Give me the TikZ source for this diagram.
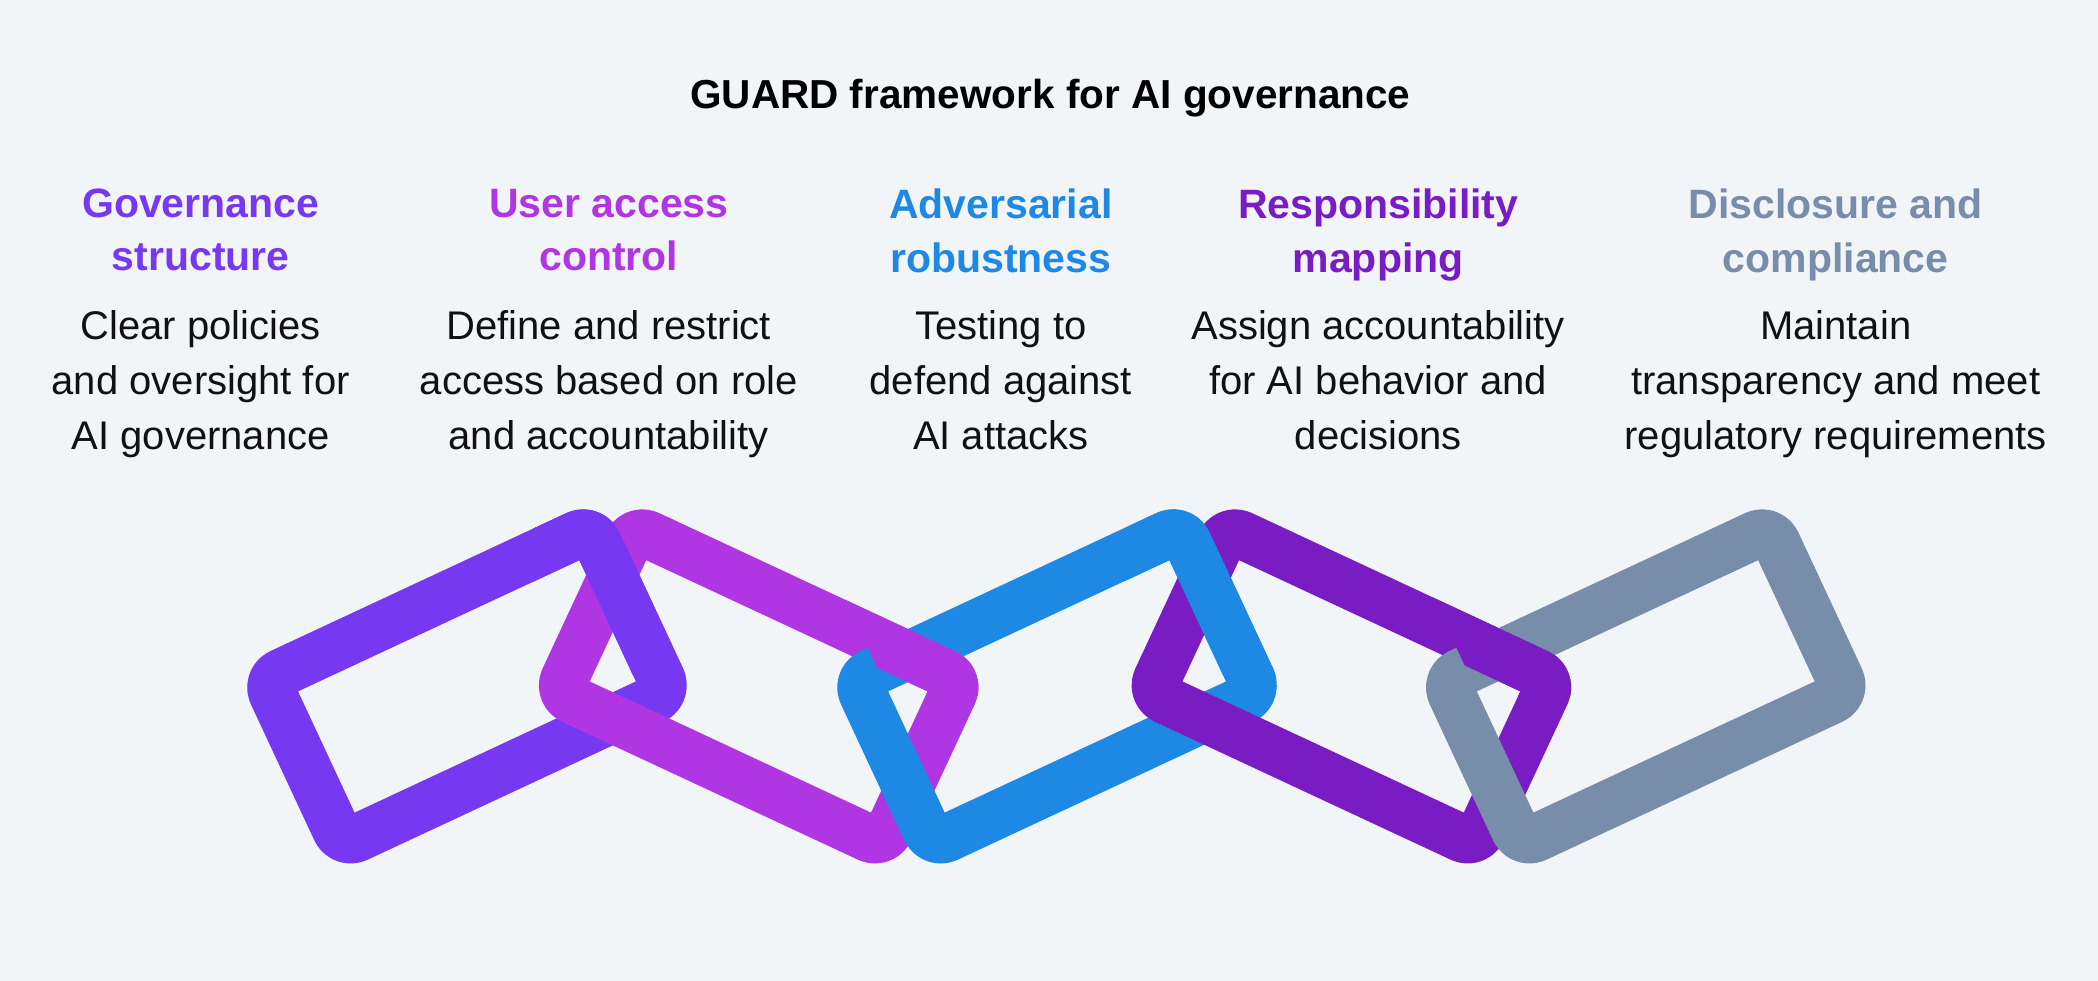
\documentclass[tikz,border=0pt]{standalone}
\usepackage{fontspec}
\setmainfont{Liberation Sans}
\definecolor{bg}{HTML}{F2F5F8}
\definecolor{cA}{HTML}{7638F0}
\definecolor{cB}{HTML}{B036E3}
\definecolor{cC}{HTML}{1E88E5}
\definecolor{cD}{HTML}{7A1CC4}
\definecolor{cE}{HTML}{778DA9}
\definecolor{ink}{HTML}{111111}
\begin{document}
\begin{tikzpicture}[x=1.338pt,y=-1.338pt,
  head/.style={anchor=north,inner sep=0pt,align=center,font=\fontsize{41}{53.5}\selectfont\bfseries},
  body/.style={anchor=north,inner sep=0pt,align=center,text=ink,font=\fontsize{40}{55}\selectfont},
  link/.style={line width=48.2pt,rounded corners=16pt,line join=round}]
\fill[bg] (0,0) rectangle (1568,733);
\useasboundingbox (0,0) rectangle (1568,733);
\node[inner sep=0pt,font=\fontsize{40.5}{44}\selectfont\bfseries] (title) at (785,73) {GUARD framework for AI governance};
% headings
\node[head,text=cA] (h1) at (150,141) {Governance\\structure};
\node[head,text=cB] (h2) at (455,141) {User access\\control};
\node[head,text=cC] (h3) at (748,141) {Adversarial\\robustness};
\node[head,text=cD] (h4) at (1030,141) {Responsibility\\mapping};
\node[head,text=cE] (h5) at (1372,141) {Disclosure and\\compliance};
% bodies
\node[body] (b1) at (150,232) {Clear policies\\and oversight for\\AI governance};
\node[body] (b2) at (455,232) {Define and restrict\\access based on role\\and accountability};
\node[body] (b3) at (748,232) {Testing to\\defend against\\AI attacks};
\node[body] (b4) at (1030,232) {Assign accountability\\for AI behavior and\\decisions};
\node[body] (b5) at (1372,232) {Maintain\\transparency and meet\\regulatory requirements};
% chain links
\def\linkA#1#2#3{\draw[link,draw=#2,rotate around={#3:(#1,513)}] (#1-134,445) rectangle (#1+134,581);}
\def\clipB#1{\clip (#1-210.8,335.6) -- (#1-124.8,520) -- (#1-40,520) -- (#1-40,335.6) -- cycle;}
\linkA{349}{cA}{25}
\linkA{567}{cB}{-25}
\begin{scope}\clip (398,350) rectangle (520,505); \linkA{349}{cA}{25}\end{scope}
\linkA{790}{cC}{25}
\begin{scope}\clipB{790} \linkA{567}{cB}{-25}\end{scope}
\linkA{1010}{cD}{-25}
\begin{scope}\clip (840,350) rectangle (962,505); \linkA{790}{cC}{25}\end{scope}
\linkA{1230}{cE}{25}
\begin{scope}\clipB{1230} \linkA{1010}{cD}{-25}\end{scope}
\end{tikzpicture}
\end{document}
